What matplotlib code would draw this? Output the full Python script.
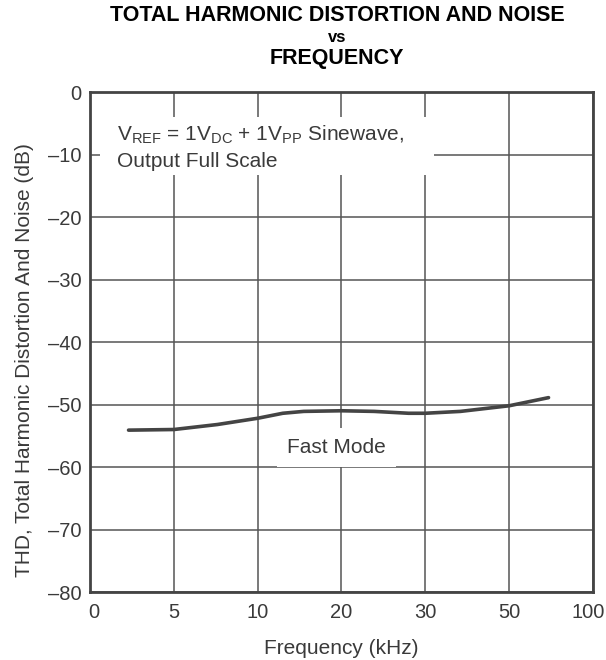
import matplotlib.pyplot as plt
from matplotlib.patches import Rectangle
from matplotlib.transforms import ScaledTranslation

plt.rcParams['font.family'] = ['Liberation Sans', 'DejaVu Sans']
plt.rcParams['mathtext.fontset'] = 'custom'
plt.rcParams['mathtext.rm'] = 'Liberation Sans'

# evenly spaced frequency ticks
freq_labels = ['0', '5', '10', '20', '30', '50', '100']
# curve (x in tick-position units)
pos = [0.46, 1.0, 1.52, 2.0, 2.3, 2.55, 3.0, 3.39, 3.8, 4.0, 4.42, 5.0, 5.47]
thd = [-54.1, -54.0, -53.2, -52.2, -51.4, -51.1, -51.0, -51.1, -51.4, -51.4, -51.1, -50.2, -48.9]
yticks = [0, -10, -20, -30, -40, -50, -60, -70, -80]

txt = '#3a3a3a'
fig = plt.figure(figsize=(6.06, 6.6), dpi=100)
ax = fig.add_axes([0.1485, 0.103, 0.83, 0.7576])

ax.plot(pos, thd, color='#444444', lw=2.6, solid_capstyle='round', zorder=2.5)

ax.set_xlim(0, 6)
ax.set_ylim(-80, 0)
ax.set_xticks(range(len(freq_labels)))
ax.set_xticklabels(freq_labels)
ax.set_yticks(yticks)
ax.set_yticklabels([str(v).replace('-', '\u2013') for v in yticks])
ax.tick_params(length=0, labelsize=14.5, labelcolor=txt)
ax.tick_params(axis='x', pad=8)
ax.tick_params(axis='y', pad=6)
# first and last labels sit a little inside the frame
xl = ax.get_xticklabels()
xl[0].set_transform(xl[0].get_transform() + ScaledTranslation(0.04, 0, fig.dpi_scale_trans))
xl[-1].set_transform(xl[-1].get_transform() + ScaledTranslation(-0.05, 0, fig.dpi_scale_trans))
ax.set_axisbelow(True)
ax.grid(True, color='#555555', lw=1.1)
for s in ax.spines.values():
    s.set_color('#444444')
    s.set_linewidth(2)

ax.add_patch(Rectangle((0.12, -13.3), 3.98, 9.3, facecolor='white', edgecolor='none', zorder=1.5))
ax.text(0.32, -7.7, r'V$_{\mathrm{REF}}$ = 1V$_{\mathrm{DC}}$ + 1V$_{\mathrm{PP}}$ Sinewave,',
        fontsize=15, color=txt, va='baseline', zorder=3)
ax.text(0.32, -12.0, 'Output Full Scale', fontsize=15, color=txt, va='baseline', zorder=3)

ax.text(2.94, -57.8, 'Fast Mode', fontsize=15, color=txt, ha='center', va='baseline', zorder=3,
        bbox=dict(facecolor='white', edgecolor='none', pad=7))

ax.set_xlabel('Frequency (kHz)', fontsize=15, color=txt, labelpad=12)
ax.set_ylabel('THD, Total Harmonic Distortion And Noise (dB)', fontsize=15, color=txt)
ax.yaxis.set_label_coords(-0.111, 0.464)

fig.text(0.556, 0.976, 'TOTAL HARMONIC DISTORTION AND NOISE', fontsize=15.5, fontweight='bold',
         ha='center', va='center')
fig.text(0.556, 0.943, 'vs', fontsize=12, fontweight='bold', ha='center', va='center')
fig.text(0.556, 0.911, 'FREQUENCY', fontsize=15.5, fontweight='bold', ha='center', va='center')

fig.savefig('out.png', dpi=100)
